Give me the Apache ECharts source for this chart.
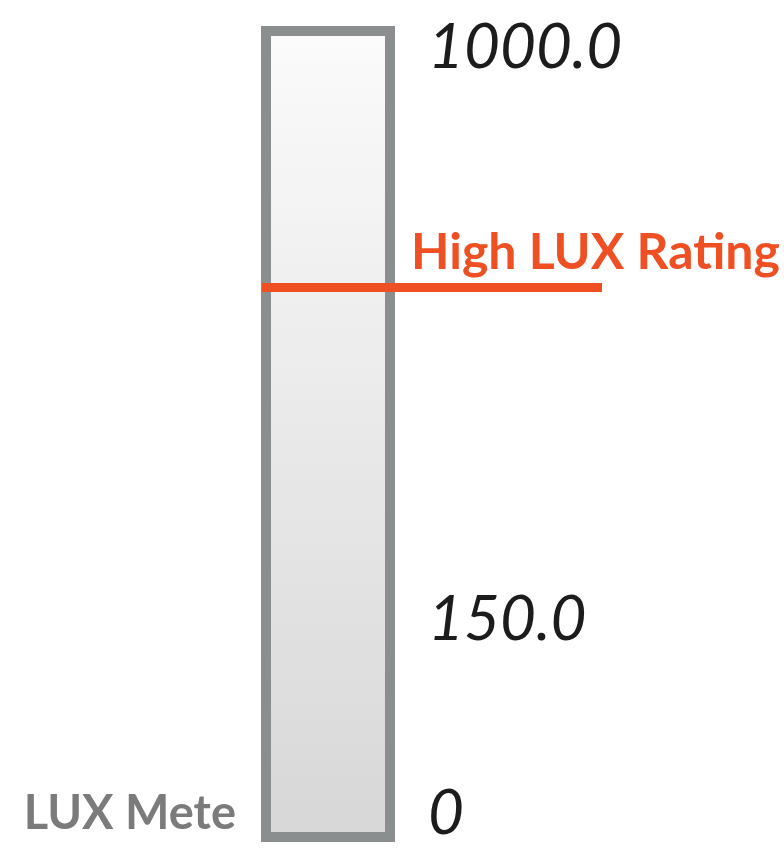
<!DOCTYPE html>
<html>
<head>
<meta charset="utf-8">
<script src="https://cdn.jsdelivr.net/npm/echarts@6/dist/echarts.min.js"></script>
<style>html,body{margin:0;padding:0;background:#fff}#c{width:784px;height:851px}</style>
</head>
<body>
<div id="c"></div>
<script>
// ---- data ----
const categories = ['LUX Mete'];
const tickValues = [0, 150, 1000];
const tickLabels = ['0', '150.0', '1000.0'];
const highLuxValue = 645;
const highLuxLabel = 'High LUX Rating';

// ---- scale (piecewise display scale of the meter) ----
const tickFrac = [0, 0.253, 1];
function toPos(v) {
  for (let i = 1; i < tickValues.length; i++) {
    if (v <= tickValues[i]) {
      const t = (v - tickValues[i - 1]) / (tickValues[i] - tickValues[i - 1]);
      return tickFrac[i - 1] + t * (tickFrac[i] - tickFrac[i - 1]);
    }
  }
  return tickFrac[tickFrac.length - 1];
}

const chart = echarts.init(document.getElementById('c'), null, {renderer: 'canvas'});
const option = {
  animation: false,
  backgroundColor: '#ffffff',
  grid: {
    left: 266, width: 124, top: 31, bottom: 14,
    show: true,
    borderColor: '#8b8e8e',
    borderWidth: 10,
    backgroundColor: new echarts.graphic.LinearGradient(0, 0, 0, 1, [
      {offset: 0, color: '#fbfbfb'},
      {offset: 1, color: '#d7d7d7'}
    ])
  },
  xAxis: {
    type: 'category',
    data: categories,
    offset: -12,
    axisLine: {show: false}, axisTick: {show: false}, axisLabel: {show: false},
    name: categories[0],
    nameLocation: 'start',
    nameGap: 30,
    nameTextStyle: {
      fontFamily: 'Lato', fontWeight: 'bold', fontSize: 47, color: '#7b7b7b',
      align: 'right', verticalAlign: 'middle'
    }
  },
  yAxis: {
    type: 'value',
    position: 'right',
    min: -0.030, max: 1.022,
    axisLine: {show: false}, axisTick: {show: false}, splitLine: {show: false},
    axisLabel: {
      customValues: tickValues.map(toPos),
      margin: 38,
      fontFamily: 'Lato', fontStyle: 'italic', fontSize: 62, color: '#1c1c1c',
      formatter: function (val) {
        let best = 0;
        tickValues.forEach((v, i) => {
          if (Math.abs(toPos(v) - val) < Math.abs(toPos(tickValues[best]) - val)) best = i;
        });
        return tickLabels[best];
      }
    }
  },
  series: [{
    type: 'line',
    data: [],
    markLine: {
      silent: true,
      symbol: 'none',
      animation: false,
      lineStyle: {color: '#ee5024', width: 9, type: 'solid'},
      label: {
        show: true,
        position: 'insideStartTop',
        distance: [149, 9],
        formatter: highLuxLabel,
        fontFamily: 'Lato', fontWeight: 'bold', fontSize: 50, color: '#ee5024'
      },
      data: [[
        {yAxis: toPos(highLuxValue), x: 262},
        {yAxis: toPos(highLuxValue), x: 602}
      ]]
    }
  }]
};
chart.setOption(option);
</script>
</body>
</html>
